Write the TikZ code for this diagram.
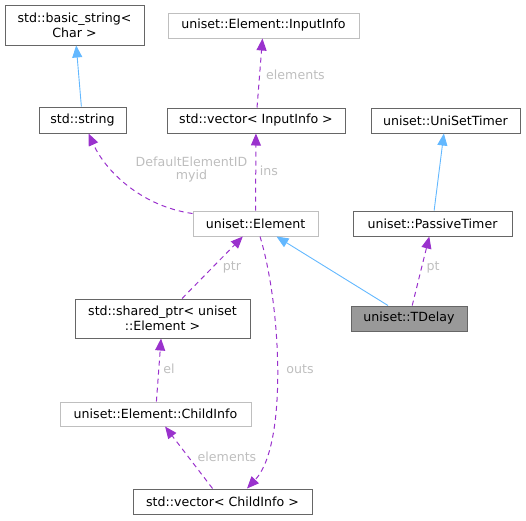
\documentclass[tikz,border=0pt]{standalone}
\usepackage{fontspec}
\setmainfont{DejaVu Sans}
\usetikzlibrary{arrows.meta}
\definecolor{edgepurple}{HTML}{9A32CD}
\definecolor{edgeblue}{HTML}{63B8FF}
\definecolor{boxgray}{HTML}{666666}
\definecolor{undocgray}{HTML}{BFBFBF}
\definecolor{labelgray}{HTML}{BEBEBE}
\definecolor{curfill}{HTML}{999999}
\tikzset{
  cls/.style={draw=boxgray, fill=white, line width=1pt, inner sep=0pt, align=center,
    font=\fontsize{12.6}{15}\selectfont},
  undoc/.style={cls, draw=undocgray},
  cur/.style={cls, fill=curfill},
  inh/.style={draw=edgeblue, line width=0.9pt, -{Triangle[length=12pt,width=10pt,fill=edgeblue]}},
  use/.style={draw=edgepurple, line width=1pt, dash pattern=on 5pt off 4pt,
    -{Triangle[length=12pt,width=10pt,fill=edgepurple]}},
  lbl/.style={text=labelgray, inner sep=0pt, align=center, font=\fontsize{12.6}{13}\selectfont}
}
\begin{document}
\begin{tikzpicture}[x=1pt,y=-1pt]
\useasboundingbox (0,0) rectangle (526,520);
\node[cls, minimum width=139pt, minimum height=40pt] (bstr) at (74.5,25) {std::basic\_string<\\Char >};
\node[cls, minimum width=87pt, minimum height=26pt] (str) at (82.5,120) {std::string};
\node[undoc, minimum width=191pt, minimum height=25pt] (iinfo) at (263.5,25.5) {uniset::Element::InputInfo};
\node[cls, minimum width=178pt, minimum height=25pt] (vii) at (256,120.5) {std::vector< InputInfo >};
\node[cls, minimum width=149pt, minimum height=25pt] (ust) at (445.5,120.5) {uniset::UniSetTimer};
\node[undoc, minimum width=125pt, minimum height=25pt] (elem) at (255.5,223.5) {uniset::Element};
\node[cls, minimum width=159pt, minimum height=25pt] (ptimer) at (432.5,223.5) {uniset::PassiveTimer};
\node[cur, minimum width=116pt, minimum height=25pt] (tdelay) at (409,318.5) {uniset::TDelay};
\node[cls, minimum width=175pt, minimum height=39pt] (sptr) at (162.5,318.5) {std::shared\_ptr< uniset\\::Element >};
\node[undoc, minimum width=191pt, minimum height=24pt] (cinfo) at (155.5,414) {uniset::Element::ChildInfo};
\node[cls, minimum width=179pt, minimum height=25pt] (vci) at (222.5,501.5) {std::vector< ChildInfo >};
\draw[inh] (str) -- (bstr);
\draw[inh] (ptimer) -- (ust);
\draw[inh] (tdelay) -- (elem);
\draw[use] ([yshift=10pt]elem.west) .. controls (140,206) and (105,170) .. ([xshift=6pt]str.south);
\draw[use] (elem) -- (vii);
\draw[use] (vii) -- (iinfo);
\draw[use] (tdelay) -- (ptimer);
\draw[use] (sptr) -- (elem);
\draw[use] ([xshift=4.5pt]elem.south) .. controls (281,305) and (288,445) .. ([xshift=24.5pt]vci.north);
\draw[use] (cinfo) -- (sptr);
\draw[use] (vci) -- (cinfo);
\node[lbl] (lmyid) at (191.5,170) {DefaultElementID\\myid};
\node[lbl] (lins) at (269,171) {ins};
\node[lbl] (lelemi) at (295.5,75) {elements};
\node[lbl] (lpt) at (433,267) {pt};
\node[lbl] (lptr) at (232,267) {ptr};
\node[lbl] (lel) at (169,369) {el};
\node[lbl] (louts) at (300,369) {outs};
\node[lbl] (lelemc) at (227,457) {elements};
\end{tikzpicture}
\end{document}
